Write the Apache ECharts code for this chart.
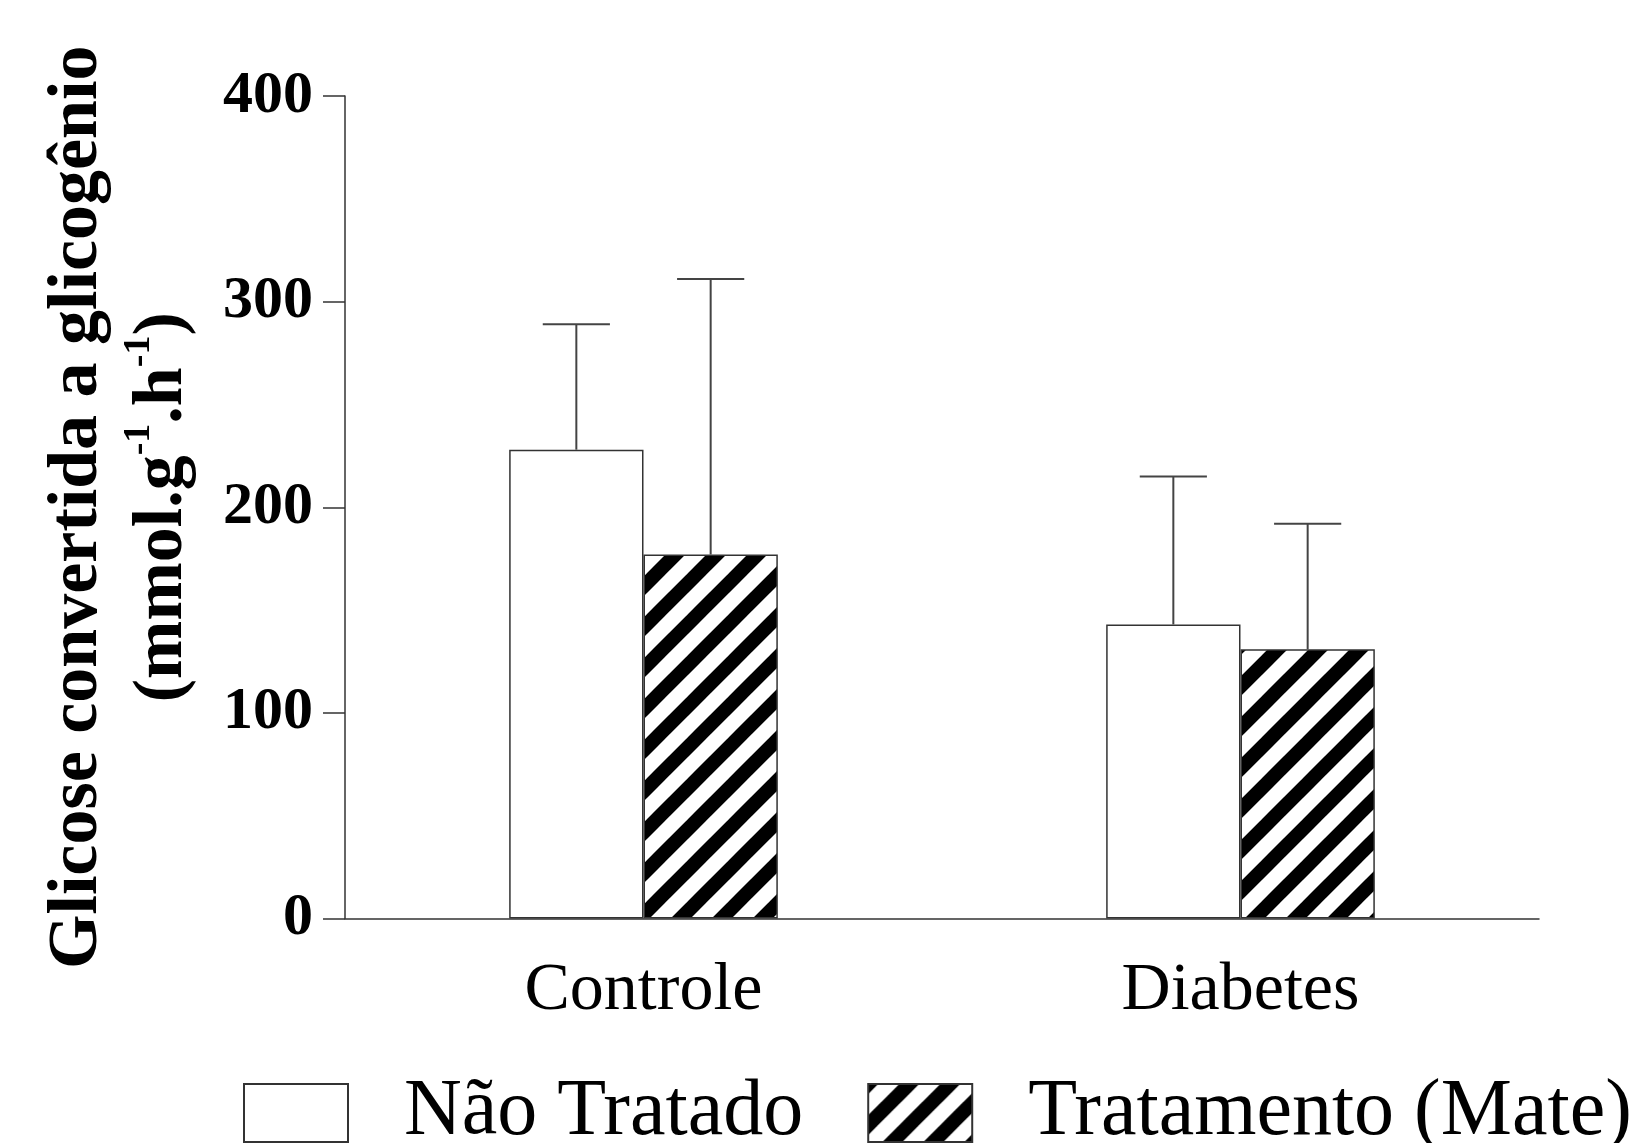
<!DOCTYPE html>
<html>
<head>
<meta charset="utf-8">
<script src="https://cdn.jsdelivr.net/npm/echarts@6/dist/echarts.min.js"></script>
<style>
html,body{margin:0;padding:0;background:#fff;}
#chart{width:1649px;height:1143px;}
</style>
</head>
<body>
<div id="chart"></div>
<script>
// ---- data ----
const categories = ['Controle', 'Diabetes'];
const seriesNames = ['Não Tratado', 'Tratamento (Mate)'];
const naoTratado = [228, 143];
const naoTratadoUpper = [289, 215];   // mean + error
const tratamento = [177, 131];
const tratamentoUpper = [311, 192];  // mean + error
const yMin = 0, yMax = 400, yInterval = 100;

// ---- hatch pattern ----
function makeHatch() {
  const s = 41;
  const c = document.createElement('canvas');
  c.width = s; c.height = s;
  const ctx = c.getContext('2d');
  ctx.fillStyle = '#fff';
  ctx.fillRect(0, 0, s, s);
  ctx.strokeStyle = '#000';
  ctx.lineWidth = 14;
  for (let k = -1; k <= 1; k++) {
    const x0 = k * s;
    ctx.beginPath();
    ctx.moveTo(x0 - 10, s + 10);
    ctx.lineTo(x0 + s + 10, -10);
    ctx.stroke();
  }
  return c;
}
const hatch = { image: makeHatch(), repeat: 'repeat' };

const FONT = 'Liberation Serif';
const BAR_GAP_CAT = 0.55;

function errRenderer(sign) {
  return function (params, api) {
    const xi = api.value(0);
    const mean = api.value(1);
    const up = api.value(2);
    const band = api.size([1, 0])[0];
    const barW = band * (1 - BAR_GAP_CAT) / 2;
    const p0 = api.coord([xi, mean]);
    const p1 = api.coord([xi, up]);
    const cx = p0[0] + sign * barW / 2;
    const st = { stroke: '#444', lineWidth: 2 };
    return {
      type: 'group',
      children: [
        { type: 'line', shape: { x1: cx, y1: p0[1], x2: cx, y2: p1[1] }, style: st },
        { type: 'line', shape: { x1: cx - barW / 4, y1: p1[1], x2: cx + barW / 4, y2: p1[1] }, style: st }
      ]
    };
  };
}

const chart = echarts.init(document.getElementById('chart'));
chart.setOption({
  animation: false,
  backgroundColor: '#fff',
  grid: { left: 345, right: 110, top: 96, bottom: 224.5, containLabel: false },
  legend: {
    data: seriesNames,
    icon: 'rect',
    left: 238,
    top: 1068,
    itemWidth: 104,
    itemHeight: 58,
    itemGap: 64,
    selectedMode: false,
    textStyle: { fontFamily: FONT, fontSize: 80, color: '#000', padding: [0, 0, 0, 51] }
  },
  xAxis: {
    type: 'category',
    data: categories,
    boundaryGap: true,
    axisLine: { lineStyle: { color: '#333', width: 1.5 } },
    axisTick: { alignWithLabel: true, length: 22, lineStyle: { color: '#333', width: 1.5 } },
    axisLabel: { fontFamily: FONT, fontSize: 68, color: '#000', margin: 39 },
    splitLine: { show: false }
  },
  yAxis: {
    type: 'value',
    min: yMin, max: yMax, interval: yInterval,
    axisLine: { show: true, lineStyle: { color: '#333', width: 1.5 } },
    axisTick: { show: true, length: 22, lineStyle: { color: '#333', width: 1.5 } },
    axisLabel: { fontFamily: FONT, fontSize: 60, fontWeight: 'bold', color: '#000', margin: 32 },
    splitLine: { show: false },
    name: 'Glicose convertida a glicogênio\n(mmol.g{sup|-1}.h{sup|-1})',
    nameLocation: 'middle',
    nameRotate: 90,
    nameGap: 140,
    nameTextStyle: {
      fontFamily: FONT, fontSize: 70, fontWeight: 'bold', color: '#000', lineHeight: 85,
      rich: {
        sup: { fontFamily: FONT, fontSize: 38, fontWeight: 'bold', color: '#000', lineHeight: 16, verticalAlign: 'top' }
      }
    }
  },
  series: [
    {
      name: seriesNames[0], type: 'bar', data: naoTratado,
      barGap: '0%', barCategoryGap: (BAR_GAP_CAT * 100) + '%',
      itemStyle: { color: '#fff', borderColor: '#333', borderWidth: 1.5 }
    },
    {
      name: seriesNames[1], type: 'bar', data: tratamento,
      barGap: '0%', barCategoryGap: (BAR_GAP_CAT * 100) + '%',
      itemStyle: { color: hatch, borderColor: '#333', borderWidth: 1.5 }
    },
    {
      type: 'custom', name: 'err1', z: 5,
      renderItem: errRenderer(-1),
      encode: { x: 0, y: [1, 2] },
      data: categories.map((c, i) => [i, naoTratado[i], naoTratadoUpper[i]])
    },
    {
      type: 'custom', name: 'err2', z: 5,
      renderItem: errRenderer(1),
      encode: { x: 0, y: [1, 2] },
      data: categories.map((c, i) => [i, tratamento[i], tratamentoUpper[i]])
    }
  ]
});
</script>
</body>
</html>
